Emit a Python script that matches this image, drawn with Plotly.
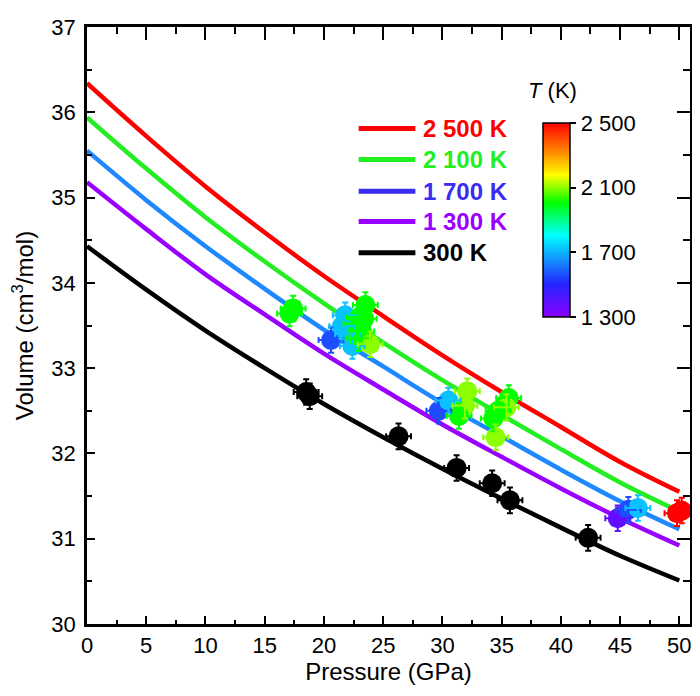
import plotly.graph_objects as go
from plotly.colors import sample_colorscale

# EOS curves, every 5 GPa
pressure_grid = [0, 5, 10, 15, 20, 25, 30, 35, 40, 45, 50]
v_2500 = [36.34, 35.72, 35.13, 34.59, 34.08, 33.61, 33.15, 32.72, 32.31, 31.90, 31.55]
v_2100 = [35.94, 35.34, 34.77, 34.25, 33.76, 33.30, 32.86, 32.45, 32.05, 31.66, 31.32]
v_1700 = [35.55, 34.97, 34.43, 33.93, 33.45, 33.02, 32.59, 32.20, 31.81, 31.44, 31.11]
v_1300 = [35.18, 34.63, 34.10, 33.63, 33.17, 32.75, 32.34, 31.96, 31.59, 31.24, 30.92]
v_300 = [34.43, 33.92, 33.44, 33.00, 32.58, 32.19, 31.82, 31.47, 31.13, 30.80, 30.51]

# high-T data points (P in GPa, V in cm3/mol, T in K)
hot_p = [17.1, 17.4, 20.6, 21.8, 21.5, 22.4, 22.0, 22.7, 23.2, 22.9, 23.5, 23.4, 23.9, 23.0,
         29.7, 30.5, 32.1, 31.9, 31.4, 35.6, 35.4, 34.3, 34.7, 34.5,
         44.8, 45.7, 46.5, 49.8, 50.2]
hot_v = [33.64, 33.70, 33.33, 33.62, 33.49, 33.26, 33.40, 33.52, 33.43, 33.35, 33.74, 33.58, 33.28, 33.60,
         32.50, 32.62, 32.73, 32.56, 32.44, 32.65, 32.54, 32.41, 32.50, 32.19,
         31.24, 31.34, 31.36, 31.30, 31.33]
hot_t = [2010, 2010, 1560, 1720, 1720, 1720, 1720, 2010, 2010, 2010, 2010, 2010, 2100, 2010,
         1560, 1720, 2100, 2100, 2010, 2010, 2100, 2010, 2010, 2100,
         1380, 1560, 1720, 2500, 2500]

# 300 K data points
cold_p = [18.5, 18.8, 26.3, 31.2, 34.2, 35.7, 42.3]
cold_v = [32.72, 32.67, 32.20, 31.83, 31.65, 31.45, 31.01]

t_min, t_max = 1300, 2500
cbar_vals = [1300, 1700, 2100, 2500]
cbar_text = ['1 300', '1 700', '2 100', '2 500']

t_scale = [[0, '#8a00ff'], [0.17, '#2424ff'], [0.42, '#00ffff'], [0.59, '#00ff00'],
           [0.73, '#ffff00'], [0.86, '#ff8000'], [1, '#ff0000']]

curve_names = ['2 500 K', '2 100 K', '1 700 K', '1 300 K', '300 K']
curve_vals = [v_2500, v_2100, v_1700, v_1300, v_300]
curve_colors = ['#ff0000', '#22ee22', '#1e88ff', '#9900ff', '#000000']
legend_colors = ['#ff0000', '#22ee22', '#3a2cf0', '#9900ff', '#000000']

font = 'Liberation Sans, Arial, sans-serif'
fig = go.Figure()

for vals, col in zip(curve_vals, curve_colors):
    fig.add_trace(go.Scatter(x=pressure_grid, y=vals, mode='lines', line_shape='spline',
                             line=dict(color=col, width=4.5), showlegend=False))

# coloured points + colorbar
fig.add_trace(go.Scatter(
    x=hot_p, y=hot_v, mode='markers', showlegend=False,
    marker=dict(size=20, color=hot_t, colorscale=t_scale, cmin=t_min, cmax=t_max,
                showscale=True,
                colorbar=dict(x=0.757, xanchor='left', y=0.677, yanchor='middle',
                              len=0.3245, thickness=27, xpad=0, ypad=0,
                              outlinecolor='black', outlinewidth=1.5,
                              ticks='outside', ticklen=6, tickwidth=1.5, tickcolor='black',
                              tickvals=cbar_vals, ticktext=cbar_text,
                              tickfont=dict(size=22, color='black', family=font)))))

# error bars per temperature so they take the point colour
for t in sorted(set(hot_t)):
    idx = [i for i, tt in enumerate(hot_t) if tt == t]
    c = sample_colorscale(t_scale, (t - t_min) / (t_max - t_min))[0]
    fig.add_trace(go.Scatter(
        x=[hot_p[i] for i in idx], y=[hot_v[i] for i in idx], mode='markers',
        marker=dict(size=1, color=c), showlegend=False,
        error_x=dict(type='constant', value=1.05, color=c, thickness=2, width=3),
        error_y=dict(type='constant', value=0.15, color=c, thickness=2, width=3)))

fig.add_trace(go.Scatter(
    x=cold_p, y=cold_v, mode='markers', showlegend=False,
    marker=dict(size=20, color='black'),
    error_x=dict(type='constant', value=1.05, color='black', thickness=2, width=3),
    error_y=dict(type='constant', value=0.15, color='black', thickness=2, width=3)))

# empty trace so the top/right tick axes get drawn
fig.add_trace(go.Scatter(x=[None], y=[None], xaxis='x2', yaxis='y2', showlegend=False))

# hand-made legend: sample line + bold coloured label
legend_rows = [0.830, 0.778, 0.725, 0.674, 0.622]
for name, col, yy in zip(curve_names, legend_colors, legend_rows):
    fig.add_shape(type='line', xref='paper', yref='paper', x0=0.4505, x1=0.5446, y0=yy, y1=yy,
                  line=dict(color=col, width=5))
    fig.add_annotation(xref='paper', yref='paper', x=0.5545, y=yy, xanchor='left', yanchor='middle',
                       text='<b>%s</b>' % name, showarrow=False,
                       font=dict(size=24, color=col, family=font))

# colorbar title
fig.add_annotation(xref='paper', yref='paper', x=0.772, y=0.893, xanchor='center', yanchor='middle',
                   text='<i>T</i> (K)', showarrow=False,
                   font=dict(size=22, color='black', family=font))

x_ticks = [0, 5, 10, 15, 20, 25, 30, 35, 40, 45, 50]
x_range = [0, 50.9]
y_range = [30, 37]

axis_style = dict(showline=True, linewidth=2.5, linecolor='black', mirror=True,
                  ticks='inside', tickwidth=2, tickcolor='black',
                  showgrid=False, zeroline=False,
                  tickfont=dict(size=22, color='black', family=font))

fig.update_layout(
    xaxis=dict(range=x_range, tickvals=x_ticks, ticklen=8,
               minor=dict(dtick=2.5, ticks='inside', ticklen=4, tickwidth=2, tickcolor='black'),
               title=dict(text='Pressure (GPa)', font=dict(size=24, color='black', family=font),
                          standoff=6),
               **axis_style),
    yaxis=dict(range=y_range, dtick=1, ticklen=8, ticklabelstandoff=4, ticklabeloverflow='allow',
               minor=dict(dtick=0.5, ticks='inside', ticklen=5, tickwidth=2, tickcolor='black'),
               title=dict(text='Volume (cm<sup>3</sup>/mol)',
                          font=dict(size=24, color='black', family=font), standoff=14),
               **axis_style),
    xaxis2=dict(range=x_range, tickvals=x_ticks, overlaying='x', side='top', anchor='y',
                ticks='inside', ticklen=13, tickwidth=2, tickcolor='black', showticklabels=False,
                minor=dict(dtick=2.5, ticks='inside', ticklen=7, tickwidth=2, tickcolor='black'),
                showgrid=False, zeroline=False, showline=False),
    yaxis2=dict(range=y_range, dtick=1, overlaying='y', side='right', anchor='x',
                ticks='inside', ticklen=13, tickwidth=2, tickcolor='black', showticklabels=False,
                minor=dict(dtick=0.5, ticks='inside', ticklen=7, tickwidth=2, tickcolor='black'),
                showgrid=False, zeroline=False, showline=False),
    # the page adds an 8px body margin, so the figure is 8px smaller than the window
    width=692, height=688,
    margin=dict(l=79, r=7, t=12, b=72),
    plot_bgcolor='white', paper_bgcolor='white',
    font=dict(family=font, color='black'),
    showlegend=False,
)

fig.write_html("out.html")
